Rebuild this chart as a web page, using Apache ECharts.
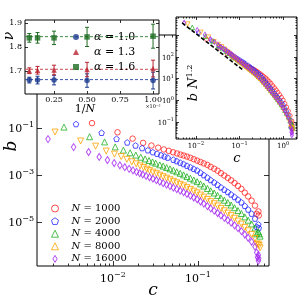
<!DOCTYPE html>
<html><head><meta charset="utf-8">
<script src="https://cdn.jsdelivr.net/npm/echarts@6/dist/echarts.min.js"></script>
<style>html,body{margin:0;padding:0;background:#fff}#c{width:300px;height:300px}</style>
</head><body><div id="c"></div>
<script>
// ---------------- DATA ----------------
const nValues = [1000, 2000, 4000, 8000, 16000];

const c_N1000 = [0.00566,0.0113,0.0170,0.0226,0.0283,0.0340,0.0396,0.0453,0.0509,0.0566,0.0623,0.0679,
  0.0741,0.0813,0.0891,0.0977,0.107,0.117,0.129,0.141,0.155,0.170,0.186,0.204,0.224,0.245,0.269,0.295,0.324,0.355,0.389,0.427,0.468,0.513,
  0.490,0.519];
const b_N1000 = [0.162,0.0661,0.0355,0.0234,0.0180,0.0146,0.0123,0.0107,0.00933,0.00832,0.00741,0.00676,
  6.10e-3,5.43e-3,4.73e-3,4.12e-3,3.59e-3,3.13e-3,2.69e-3,2.24e-3,1.86e-3,1.53e-3,1.20e-3,9.55e-4,7.59e-4,5.96e-4,4.57e-4,3.47e-4,2.57e-4,1.78e-4,1.23e-4,8.13e-5,5.01e-5,2.82e-5,
  2.24e-5,1.91e-5];

const c_N2000 = [0.00367,0.00734,0.0110,0.0147,0.0184,0.0220,0.0257,0.0294,0.0330,0.0367,0.0404,0.0440,
  0.0513,0.0562,0.0617,0.0676,0.0741,0.0813,0.0891,0.0977,0.107,0.117,0.129,0.141,0.155,0.170,0.186,0.204,0.224,0.245,0.269,0.295,0.324,0.355,0.389,0.427,0.468,0.513,
  0.490,0.519];
const b_N2000 = [0.148,0.0631,0.0347,0.0245,0.0182,0.0141,0.0114,0.00944,0.00813,0.00708,0.00624,0.00556,
  4.52e-3,3.94e-3,3.39e-3,2.95e-3,2.51e-3,2.16e-3,1.84e-3,1.58e-3,1.26e-3,1.00e-3,7.85e-4,6.17e-4,4.90e-4,3.85e-4,3.02e-4,2.40e-4,1.91e-4,1.50e-4,1.17e-4,9.12e-5,6.92e-5,4.90e-5,3.43e-5,2.29e-5,1.41e-5,7.94e-6,
  6.31e-6,5.62e-6];

const c_N4000 = [0.00265,0.0053,0.00795,0.0106,0.01325,0.0159,0.01855,0.0212,0.02385,0.0265,0.02915,0.0318,
  0.0355,0.0389,0.0427,0.0468,0.0513,0.0562,0.0617,0.0676,0.0741,0.0813,0.0891,0.0977,0.107,0.117,0.129,0.141,0.155,0.170,0.186,0.204,0.224,0.245,0.269,0.295,0.324,0.355,0.389,0.427,0.468,0.513,
  0.490,0.525,0.537];
const b_N4000 = [0.110,0.0427,0.0257,0.0158,0.0115,0.00891,0.00708,0.00575,0.00484,0.00417,0.00363,0.00320,
  2.72e-3,2.40e-3,2.09e-3,1.84e-3,1.60e-3,1.38e-3,1.19e-3,1.02e-3,8.61e-4,7.33e-4,6.17e-4,5.25e-4,4.22e-4,3.39e-4,2.69e-4,2.14e-4,1.72e-4,1.36e-4,1.07e-4,8.51e-5,6.76e-5,5.31e-5,4.07e-5,3.09e-5,2.32e-5,1.66e-5,1.20e-5,8.32e-6,5.62e-6,3.80e-6,
  3.16e-6,3.16e-6,2.51e-6];

const c_N8000 = [0.00208,0.00416,0.00624,0.00832,0.0104,0.01248,0.01456,0.01664,0.01872,0.0208,0.02288,0.02496,
  0.0269,0.0295,0.0324,0.0355,0.0389,0.0427,0.0468,0.0513,0.0562,0.0617,0.0676,0.0741,0.0813,0.0891,0.0977,0.107,0.117,0.129,0.141,0.155,0.170,0.186,0.204,0.224,0.245,0.269,0.295,0.324,0.355,0.389,0.427,0.468,0.513,
  0.490,0.525,0.537];
const b_N8000 = [0.0676,0.0282,0.0170,0.0105,0.00776,0.00610,0.00468,0.00367,0.00299,0.00245,0.00209,0.00178,
  1.55e-3,1.33e-3,1.15e-3,9.89e-4,8.51e-4,7.33e-4,6.31e-4,5.43e-4,4.68e-4,4.03e-4,3.47e-4,2.92e-4,2.45e-4,2.07e-4,1.74e-4,1.41e-4,1.15e-4,9.23e-5,7.41e-5,6.03e-5,4.84e-5,3.80e-5,3.02e-5,2.40e-5,1.88e-5,1.45e-5,1.10e-5,8.22e-6,5.89e-6,4.27e-6,2.95e-6,2.00e-6,1.17e-6,
  1.12e-6,1.00e-6,7.94e-7];

const c_N16000 = [0.00172,0.00344,0.00516,0.00688,0.0086,0.01032,0.01204,0.01376,0.01548,0.0172,0.01892,0.02064,
  0.0224,0.0245,0.0269,0.0295,0.0324,0.0355,0.0389,0.0427,0.0468,0.0513,0.0562,0.0617,0.0676,0.0741,0.0813,0.0891,0.0977,0.107,0.117,0.129,0.141,0.155,0.170,0.186,0.204,0.224,0.245,0.269,0.295,0.324,0.355,0.389,0.427,0.468,0.513,
  0.490,0.501,0.519,0.513];
const b_N16000 = [0.0339,0.0155,0.00955,0.00589,0.00437,0.00324,0.00260,0.00216,0.00184,0.00158,0.00136,0.00120,
  1.06e-3,9.23e-4,8.04e-4,7.00e-4,6.03e-4,5.25e-4,4.52e-4,3.89e-4,3.39e-4,2.92e-4,2.51e-4,2.16e-4,1.86e-4,1.57e-4,1.32e-4,1.11e-4,9.33e-5,7.50e-5,6.03e-5,4.79e-5,3.80e-5,3.05e-5,2.43e-5,1.91e-5,1.51e-5,1.20e-5,9.44e-6,7.24e-6,5.50e-6,4.12e-6,2.95e-6,2.14e-6,1.45e-6,8.91e-7,3.98e-7,
  5.01e-7,3.16e-7,2.82e-7,2.24e-7];

// right inset: b N^1.2 against rescaled c
const insetExponent = 1.2;
const insetCScale = 3.1;
const dashC = [0.0048, 0.12];
const dashY = [3700, 25];

// left inset: nu against 1/N (x 10^-3)
const invN = [0.0625, 0.125, 0.25, 0.5, 1.0];
const alphaLabels = ['1.0', '1.3', '1.6'];
const nu_a10 = [1.662, 1.662, 1.662, 1.660, 1.660];
const err_a10 = [0.012, 0.016, 0.020, 0.028, 0.035];
const nu_a13 = [1.701, 1.703, 1.704, 1.706, 1.710];
const err_a13 = [0.012, 0.016, 0.020, 0.030, 0.035];
const nu_a16 = [1.838, 1.838, 1.838, 1.842, 1.845];
const err_a16 = [0.018, 0.022, 0.028, 0.040, 0.050];
const nuFit = [1.664, 1.707, 1.843];

// tick labels
const mainXLabels = [0.01, 0.1];
const mainYLabels = [1e-5, 1e-3, 1e-1];
const leftInsetXLabels = [0.25, 0.5, 0.75, 1.0];
const leftInsetYLabels = [1.7, 1.8, 1.9];
const rightInsetXLabels = [0.01, 0.1, 1];
const rightInsetYLabels = [0.1, 1, 10, 100];

// ---------------- STYLE / LAYOUT ----------------
const SERIF = "'DejaVu Serif','Liberation Serif',serif";
const mainRange = {x: [0.001276, 0.684], y: [1.35e-7, 912]};
const leftRange = {x: [0.03, 1.045], y: [1.604, 1.9125]};
const rightRange = {x: [0.00347, 2.09], y: [0.0166, 6918]};

function minorLog(lo, hi) {
  const out = [];
  for (let d = Math.floor(Math.log10(lo)); d <= Math.ceil(Math.log10(hi)); d++) {
    for (let k = 2; k <= 9; k++) { const v = k * Math.pow(10, d); if (v > lo && v < hi) out.push(v); }
  }
  return out;
}
function decades(lo, hi) {
  const out = [];
  for (let d = Math.ceil(Math.log10(lo)); d <= Math.floor(Math.log10(hi)); d++) out.push(Math.pow(10, d));
  return out;
}
function supFmt(v) {
  const e = Math.round(Math.log10(v));
  return '{b|10}{s|' + (e < 0 ? '\u2212' + (-e) : e) + '}';
}
function rich(fs) {
  return {
    b: {fontFamily: SERIF, fontSize: fs, verticalAlign: 'bottom', color: '#000'},
    s: {fontFamily: SERIF, fontSize: Math.round(fs * 0.7), verticalAlign: 'bottom', padding: [0, 0, Math.round(fs * 0.55), 0], color: '#000'}
  };
}
function ax(grid, pos, type, range, ticks, len, labels, fmt, fs, margin, z) {
  return {
    type: type, gridIndex: grid, position: pos, min: range[0], max: range[1], logBase: 10, z: z,
    axisLine: {show: false}, splitLine: {show: false}, minorTick: {show: false},
    axisTick: {show: true, inside: true, length: len, customValues: ticks, lineStyle: {color: '#000', width: 0.8}},
    axisLabel: labels ? {show: true, customValues: labels, formatter: fmt, margin: margin, color: '#000',
      fontFamily: SERIF, fontSize: fs, rich: rich(fs)} : {show: false},
    silent: true
  };
}

const xAxes = [
  ax(0, 'bottom', 'log', mainRange.x, mainXLabels, 5, mainXLabels, supFmt, 11, 5, 1),
  ax(0, 'bottom', 'log', mainRange.x, minorLog(mainRange.x[0], mainRange.x[1]), 2.5, null, null, 0, 0, 1),
  ax(0, 'top', 'log', mainRange.x, mainXLabels, 5, null, null, 0, 0, 1),
  ax(0, 'top', 'log', mainRange.x, minorLog(mainRange.x[0], mainRange.x[1]), 2.5, null, null, 0, 0, 1),
  ax(1, 'bottom', 'value', leftRange.x, leftInsetXLabels, 3, leftInsetXLabels, v => v.toFixed(2), 8, 2, 11),
  ax(1, 'top', 'value', leftRange.x, leftInsetXLabels, 3, null, null, 0, 0, 11),
  ax(2, 'bottom', 'log', rightRange.x, decades(rightRange.x[0], rightRange.x[1]), 3, rightInsetXLabels, supFmt, 7, 2, 11),
  ax(2, 'bottom', 'log', rightRange.x, minorLog(rightRange.x[0], rightRange.x[1]), 1.5, null, null, 0, 0, 11),
  ax(2, 'top', 'log', rightRange.x, decades(rightRange.x[0], rightRange.x[1]), 3, null, null, 0, 0, 11),
  ax(2, 'top', 'log', rightRange.x, minorLog(rightRange.x[0], rightRange.x[1]), 1.5, null, null, 0, 0, 11)
];
const yAxes = [
  ax(0, 'left', 'log', mainRange.y, mainYLabels, 5, mainYLabels, supFmt, 11, 3, 1),
  ax(0, 'right', 'log', mainRange.y, mainYLabels, 5, null, null, 0, 0, 1),
  ax(1, 'left', 'value', leftRange.y, leftInsetYLabels, 3, leftInsetYLabels, v => v.toFixed(1), 8, 3, 11),
  ax(1, 'right', 'value', leftRange.y, leftInsetYLabels, 3, null, null, 0, 0, 11),
  ax(2, 'left', 'log', rightRange.y, decades(rightRange.y[0], rightRange.y[1]), 3, rightInsetYLabels, supFmt, 7, 2, 11),
  ax(2, 'left', 'log', rightRange.y, minorLog(rightRange.y[0], rightRange.y[1]), 1.5, null, null, 0, 0, 11),
  ax(2, 'right', 'log', rightRange.y, decades(rightRange.y[0], rightRange.y[1]), 3, null, null, 0, 0, 11),
  ax(2, 'right', 'log', rightRange.y, minorLog(rightRange.y[0], rightRange.y[1]), 1.5, null, null, 0, 0, 11)
];

const PENT = 'path://M0,-10 L9.51,-3.09 L5.88,8.09 L-5.88,8.09 L-9.51,-3.09 Z';
const THIN_DIAMOND = 'path://M0,-10 L6,0 L0,10 L-6,0 Z';
const mainStyles = [
  {color: '#ff2020', symbol: 'circle', size: 5.5, rot: 0},
  {color: '#2525ff', symbol: PENT, size: 5.5, rot: 0},
  {color: '#22b022', symbol: 'triangle', size: 6, rot: 0},
  {color: '#ffa200', symbol: 'triangle', size: 6, rot: 180},
  {color: '#a020f0', symbol: THIN_DIAMOND, size: [4.5, 7], rot: 0}
];
const cSets = [c_N1000, c_N2000, c_N4000, c_N8000, c_N16000];
const bSets = [b_N1000, b_N2000, b_N4000, b_N8000, b_N16000];

const series = [];
nValues.forEach((N, i) => {
  const st = mainStyles[i];
  series.push({
    name: String(N), type: 'scatter', xAxisIndex: 0, yAxisIndex: 0, z: 2,
    data: cSets[i].map((c, j) => [c, bSets[i][j]]),
    symbol: st.symbol, symbolSize: st.size, symbolRotate: st.rot,
    itemStyle: {color: 'rgba(0,0,0,0)', borderColor: st.color, borderWidth: 1},
    silent: true, animation: false
  });
});
nValues.forEach((N, i) => {
  const st = mainStyles[i];
  const sz = Array.isArray(st.size) ? [3.2, 5] : st.size * 0.75;
  series.push({
    name: 'inset' + N, type: 'scatter', xAxisIndex: 6, yAxisIndex: 4, z: 12,
    data: cSets[i].map((c, j) => [c * insetCScale, bSets[i][j] * Math.pow(N, insetExponent)]),
    symbol: st.symbol, symbolSize: sz, symbolRotate: st.rot,
    itemStyle: {color: 'rgba(0,0,0,0)', borderColor: st.color, borderWidth: 0.9},
    silent: true, animation: false
  });
});
series.push({
  name: 'dash', type: 'line', xAxisIndex: 6, yAxisIndex: 4, z: 13, symbol: 'none',
  data: dashC.map((c, j) => [c, dashY[j]]),
  lineStyle: {color: '#000', width: 1.6, type: [4, 2]}, silent: true, animation: false
});

const nuColors = ['#1b3a8f', '#b8232f', '#1d6b22'];
const fitColors = ['#3a55a8', '#c84a52', '#3f8a44'];
const nuSymbols = ['circle', 'triangle', 'rect'];
const nuSets = [nu_a10, nu_a13, nu_a16];
const errSets = [err_a10, err_a13, err_a16];
nuFit.forEach((f, i) => {
  series.push({
    name: 'fit' + i, type: 'line', xAxisIndex: 4, yAxisIndex: 2, z: 12, symbol: 'none',
    data: [[leftRange.x[0], f], [leftRange.x[1], f]],
    lineStyle: {color: fitColors[i], width: 1, type: [3, 2]}, silent: true, animation: false
  });
});
nuSets.forEach((arr, i) => {
  const col = nuColors[i];
  series.push({
    name: 'err' + i, type: 'custom', xAxisIndex: 4, yAxisIndex: 2, z: 13,
    data: invN.map((x, j) => [x, arr[j], errSets[i][j]]),
    encode: {x: 0, y: 1},
    renderItem: function (params, api) {
      const x = api.value(0), y = api.value(1), e = api.value(2);
      const p1 = api.coord([x, y - e]), p2 = api.coord([x, y + e]);
      const w = 2;
      const s = {stroke: col, lineWidth: 1};
      return {type: 'group', children: [
        {type: 'line', shape: {x1: p1[0], y1: p1[1], x2: p2[0], y2: p2[1]}, style: s},
        {type: 'line', shape: {x1: p1[0] - w, y1: p1[1], x2: p1[0] + w, y2: p1[1]}, style: s},
        {type: 'line', shape: {x1: p2[0] - w, y1: p2[1], x2: p2[0] + w, y2: p2[1]}, style: s}
      ]};
    },
    silent: true, animation: false
  });
  series.push({
    name: '\u03b1 = ' + alphaLabels[i], type: 'scatter', xAxisIndex: 4, yAxisIndex: 2, z: 14,
    data: invN.map((x, j) => [x, arr[j]]),
    symbol: nuSymbols[i], symbolSize: 5.5,
    itemStyle: {color: col}, silent: true, animation: false
  });
});

const option = {
  backgroundColor: '#fff',
  animation: false,
  grid: [
    {left: 37, top: 35, width: 232, height: 231, show: true, borderColor: '#000', borderWidth: 1, backgroundColor: 'rgba(0,0,0,0)', z: 0},
    {left: 25, top: 20, width: 134, height: 74, show: true, borderColor: '#000', borderWidth: 1, backgroundColor: '#fff', z: 10},
    {left: 176, top: 17, width: 121, height: 122, show: true, borderColor: '#000', borderWidth: 1, backgroundColor: '#fff', z: 10}
  ],
  xAxis: xAxes,
  yAxis: yAxes,
  legend: [
    {
      data: nValues.map((N, i) => ({
        name: String(N),
        itemStyle: {color: 'rgba(0,0,0,0)', borderColor: mainStyles[i].color, borderWidth: 1}
      })),
      left: 46, top: 198, orient: 'vertical',
      itemWidth: 7, itemHeight: 7, itemGap: 1.6, selectedMode: false,
      formatter: n => '{i|N} = ' + n,
      textStyle: {fontFamily: SERIF, fontSize: 10, lineHeight: 11, color: '#000', padding: [0, 0, 0, 8],
        rich: {i: {fontFamily: SERIF, fontStyle: 'italic', fontSize: 10, lineHeight: 11}}},
      z: 5
    },
    {
      data: alphaLabels.map(a => '\u03b1 = ' + a), left: 68, top: 26, orient: 'vertical',
      itemWidth: 6, itemHeight: 6, itemGap: 3, selectedMode: false,
      formatter: n => '{i|\u03b1} = ' + n.split('= ')[1],
      textStyle: {fontFamily: SERIF, fontSize: 11, lineHeight: 12, color: '#000', padding: [0, 0, 0, 10],
        rich: {i: {fontFamily: SERIF, fontStyle: 'italic', fontSize: 11, lineHeight: 12}}},
      z: 20
    }
  ],
  graphic: [
    {type: 'text', x: 12, y: 146, rotation: Math.PI / 2, z: 30,
      style: {text: 'b', font: 'italic 17px ' + SERIF, fill: '#000', align: 'center', verticalAlign: 'middle'}},
    {type: 'text', x: 153, y: 291, z: 30,
      style: {text: 'c', font: 'italic 17px ' + SERIF, fill: '#000', align: 'center', verticalAlign: 'middle'}},
    {type: 'text', x: 9, y: 36, rotation: Math.PI / 2, z: 30,
      style: {text: '\u03bd', font: 'italic 14px ' + SERIF, fill: '#000', align: 'center', verticalAlign: 'middle'}},
    {type: 'text', x: 85, y: 109, z: 30,
      style: {text: '1/{i|N}', font: '11px ' + SERIF, fill: '#000', align: 'center', verticalAlign: 'middle',
        rich: {i: {fontStyle: 'italic', fontFamily: SERIF, fontSize: 11}}}},
    {type: 'text', x: 153, y: 107, z: 30,
      style: {text: '\u00d710\u207b\u00b3', font: '5px ' + SERIF, fill: '#000', align: 'center', verticalAlign: 'middle'}},
    {type: 'text', x: 193, y: 83, rotation: Math.PI / 2, z: 30,
      style: {text: '{i|b N}{s|1.2}', fill: '#000', align: 'center', verticalAlign: 'middle',
        rich: {i: {fontStyle: 'italic', fontFamily: SERIF, fontSize: 13, verticalAlign: 'bottom'},
               s: {fontFamily: SERIF, fontSize: 8, verticalAlign: 'bottom', padding: [0, 0, 7, 0]}}}},
    {type: 'text', x: 237, y: 159, z: 30,
      style: {text: 'c', font: 'italic 13px ' + SERIF, fill: '#000', align: 'center', verticalAlign: 'middle'}}
  ],
  series: series
};

const chart = echarts.init(document.getElementById('c'), null, {renderer: 'canvas', width: 300, height: 300});
chart.setOption(option);
</script></body></html>
